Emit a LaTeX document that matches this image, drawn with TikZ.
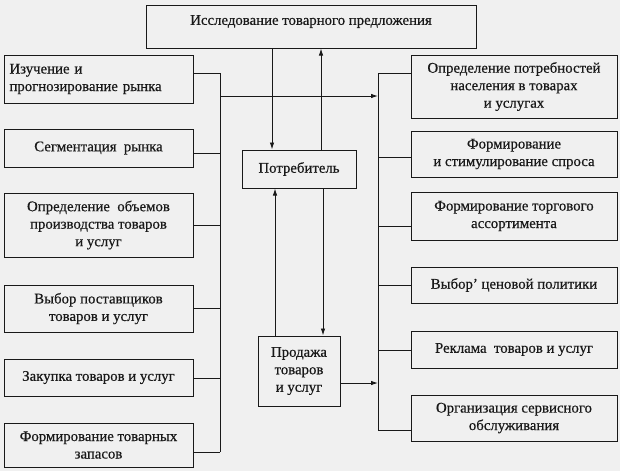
\documentclass[tikz,border=0pt]{standalone}
\usepackage{fontspec}
\setmainfont{Liberation Serif}[BoldFont=Liberation Serif, BoldFeatures={FakeBold=0.5}]
\usetikzlibrary{arrows.meta}
\definecolor{bg}{RGB}{240,240,240}
\definecolor{ink}{RGB}{25,25,25}
\tikzset{
  box/.style={draw=ink, line width=1pt, rectangle, inner sep=2pt, align=center,
    font=\fontsize{14.8}{17.5}\selectfont\bfseries, text=ink},
  conn/.style={draw=ink, line width=0.9pt},
  arr/.style={conn, -{Latex[length=7pt,width=4.5pt]}},
}
\begin{document}
\begin{tikzpicture}[x=1pt,y=-1pt]
\fill[bg] (0,0) rectangle (620,471);
\useasboundingbox (0,0) rectangle (620,471);
% top
\node[box, minimum width=330, minimum height=43, text depth=13pt] (top) at (311,26.5) {Исследование товарного предложения};
% left column
\node[box, minimum width=189, minimum height=48, text width=178pt, align=left] (B1) at (98.5,79) {Изучение и\\прогнозирование рынка};
\node[box, minimum width=189, minimum height=38] (B2) at (98.5,148) {Сегментация\ \ рынка};
\node[box, minimum width=189, minimum height=64] (B3) at (98.5,225) {Определение\ \ объемов\\производства товаров\\и услуг};
\node[box, minimum width=189, minimum height=47] (B4) at (98.5,308.5) {Выбор поставщиков\\товаров и услуг};
\node[box, minimum width=189, minimum height=37] (B5) at (98.5,377.5) {Закупка товаров и услуг};
\node[box, minimum width=189, minimum height=44] (B6) at (98.5,445) {Формирование товарных\\запасов};
% centre
\node[box, minimum width=114, minimum height=38] (P) at (299,169) {Потребитель};
\node[box, minimum width=82, minimum height=70] (S) at (299,371) {Продажа\\товаров\\и услуг};
% right column
\node[box, minimum width=206, minimum height=63] (R1) at (514,86.5) {Определение потребностей\\населения в товарах\\и услугах};
\node[box, minimum width=206, minimum height=46] (R2) at (514,154) {Формирование\\и стимулирование спроса};
\node[box, minimum width=206, minimum height=48] (R3) at (514,216) {Формирование торгового\\ассортимента};
\node[box, minimum width=206, minimum height=36] (R4) at (514,285) {Выбор' ценовой политики};
\node[box, minimum width=206, minimum height=37] (R5) at (514,349.5) {Реклама\ \ товаров и услуг};
\node[box, minimum width=206, minimum height=46] (R6) at (514,418) {Организация сервисного\\обслуживания};
% bus coordinates
\coordinate (L1) at (220,73);
\coordinate (L2) at (220,153);
\coordinate (L3) at (220,225);
\coordinate (L4) at (220,308);
\coordinate (L5) at (220,378);
\coordinate (L6) at (220,452);
\coordinate (LM) at (220,96);
\coordinate (Q1) at (378,73);
\coordinate (Q2) at (378,157);
\coordinate (Q3) at (378,226);
\coordinate (Q4) at (378,285);
\coordinate (Q5) at (378,350);
\coordinate (Q6) at (378,430);
\coordinate (QM) at (378,96);
\coordinate (QS) at (378,383);
% left bus
\draw[conn] (B1.east |- L1) -- (L1);
\draw[conn] (B2.east |- L2) -- (L2);
\draw[conn] (B3.east |- L3) -- (L3);
\draw[conn] (B4.east |- L4) -- (L4);
\draw[conn] (B5.east |- L5) -- (L5);
\draw[conn] (B6.east |- L6) -- (L6);
\draw[conn] (L1) -- (L6);
% right bus
\draw[conn] (R1.west |- Q1) -- (Q1);
\draw[conn] (R2.west |- Q2) -- (Q2);
\draw[conn] (R3.west |- Q3) -- (Q3);
\draw[conn] (R4.west |- Q4) -- (Q4);
\draw[conn] (R5.west |- Q5) -- (Q5);
\draw[conn] (R6.west |- Q6) -- (Q6);
\draw[conn] (Q1) -- (Q6);
% arrows
\draw[arr] (LM) -- (QM);
\draw[arr] (S.east |- QS) -- (QS);
\draw[arr] (top.south -| 272,0) -- (P.north -| 272,0);
\draw[arr] (P.north -| 321,0) -- (top.south -| 321,0);
\draw[arr] (S.north -| 275,0) -- (P.south -| 275,0);
\draw[arr] (P.south -| 323,0) -- (S.north -| 323,0);
\end{tikzpicture}
\end{document}
